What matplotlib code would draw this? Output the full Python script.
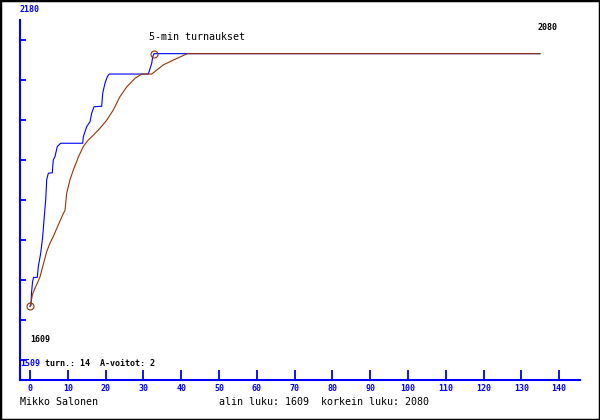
import numpy as np
import matplotlib as mpl
mpl.use('Agg')
import matplotlib.pyplot as plt
from matplotlib.patches import Rectangle

# rating progression (blue) and smoothed curve (brown)
blue_x = [0, 0.26, 0.40, 0.66, 0.93, 1.93, 2.20, 2.83, 3.36, 3.70, 4.15, 4.42, 4.84, 5.90,
          6.16, 6.61, 7.22, 8.12, 13.94, 14.10, 15.0, 15.87, 16.32, 16.93, 18.97, 19.23,
          19.84, 20.45, 20.98, 31.30, 32.20, 32.46, 32.80, 134.9]
blue_y = [1609, 1611, 1634, 1654, 1663, 1663, 1683, 1708, 1739, 1770, 1807, 1845, 1857, 1858,
          1882, 1888, 1907, 1913, 1913, 1925, 1944, 1953, 1969, 1981, 1982, 2006,
          2025, 2037, 2042, 2042, 2062, 2074, 2080, 2080]

brown_x = [0, 0.26, 0.61, 1.32, 1.93, 2.65, 3.36, 4.42, 5.29, 6.16, 7.49, 8.81, 9.26, 9.71,
           10.58, 11.46, 12.78, 14.10, 15.42, 16.75, 18.52, 20.29, 22.04, 23.81, 25.58,
           27.78, 29.55, 32.20, 35.26, 37.91, 41.61, 134.9]
brown_y = [1609, 1615, 1630, 1643, 1652, 1664, 1683, 1711, 1727, 1739, 1761, 1782, 1788, 1820,
           1845, 1863, 1887, 1907, 1919, 1928, 1941, 1956, 1975, 2000, 2018,
           2034, 2042, 2042, 2059, 2068, 2080, 2080]

x_ticks = list(range(0, 150, 10))
y_min, y_max = 1509, 2180
n_turn = 14
a_voitot = 2

BLUE = '#0000ff'
BROWN = '#993300'
W, H = 600, 420

fig = plt.figure(figsize=(6, 4.2), dpi=100)
fig.patch.set_facecolor('white')

def fx(px):
    return px / W

def fy(py):
    return 1 - py / H

# axes area: x 20..580 px, y 20..380 px
ax = fig.add_axes([fx(20), fy(380), 560 / W, 360 / H])
px_per_x = 3.78
ax.set_xlim(-10 / px_per_x, 550 / px_per_x)
pts_per_px = (y_max - y_min) / 360
ax.set_ylim(y_min - 20 * pts_per_px, y_min + 340 * pts_per_px)

ax.plot(blue_x, blue_y, color=BLUE, lw=0.8)
ax.plot(brown_x, brown_y, color=BROWN, lw=0.8)
# circles at lowest and highest values
ax.plot([brown_x[0], blue_x[-2]], [brown_y[0], blue_y[-2]], 'o', mfc='none',
        mec=BROWN, ms=5, mew=0.8)

for s in ['top', 'right']:
    ax.spines[s].set_visible(False)
for s in ['left', 'bottom']:
    ax.spines[s].set_color(BLUE)
    ax.spines[s].set_linewidth(1.5)

ax.set_xticks(x_ticks)
ax.set_xticklabels([str(t) for t in x_ticks])
ax.tick_params(axis='x', direction='in', length=7.5, width=1.3, color=BLUE,
               labelcolor=BLUE, labelsize=6, pad=3)
for lab in ax.get_xticklabels():
    lab.set_family('DejaVu Sans Mono')
    lab.set_weight('bold')

ax.set_yticks(np.linspace(y_min, y_max, 10)[:9])
ax.tick_params(axis='y', direction='in', length=4, width=1.3, color=BLUE, labelleft=False)

mono = 'DejaVu Sans Mono'
fig.text(fx(20), fy(9), str(y_max), color=BLUE, fontsize=6, family=mono,
         weight='bold', va='center')
fig.text(fx(149), fy(37), '5-min turnaukset', color='black', fontsize=7.2,
         family=mono, va='center')
fig.text(fx(537), fy(27), str(max(blue_y)), color='black', fontsize=6, family=mono,
         weight='bold', va='center')
fig.text(fx(30), fy(340), str(min(blue_y)), color='black', fontsize=6, family=mono,
         weight='bold', va='center')
fig.text(fx(20), fy(364), str(y_min), color=BLUE, fontsize=6, family=mono,
         weight='bold', va='center')
fig.text(fx(45), fy(364), 'turn.: %d  A-voitot: %d' % (n_turn, a_voitot), color='black',
         fontsize=6, family=mono, weight='bold', va='center')
fig.text(fx(20), fy(402), 'Mikko Salonen', color='black', fontsize=7.2, family=mono,
         va='center')
fig.text(fx(219), fy(402), 'alin luku: %d  korkein luku: %d' % (min(blue_y), max(blue_y)),
         color='black', fontsize=7.2, family=mono, va='center')

fig.patches.append(Rectangle((0, 0), 1, 1, transform=fig.transFigure, fill=False,
                             ec='black', lw=2.5))

plt.savefig('out.png', dpi=100)
